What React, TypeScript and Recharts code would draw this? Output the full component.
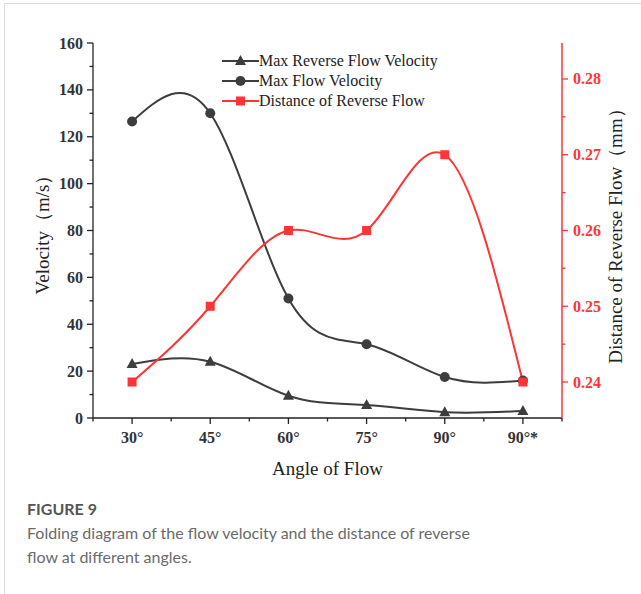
import React from "react";
import {
  ComposedChart,
  Line,
  XAxis,
  YAxis,
  Legend,
} from "recharts";

const angles = ["30°", "45°", "60°", "75°", "90°", "90°*"];
const maxReverseVelocity = [23, 24, 9.5, 5.5, 2.5, 3];
const maxFlowVelocity = [126.5, 130, 51, 31.5, 17.5, 16];
const reverseDistance = [0.24, 0.25, 0.26, 0.26, 0.27, 0.24];

const velocityTicks = [0, 10, 20, 30, 40, 50, 60, 70, 80, 90, 100, 110, 120, 130, 140, 150, 160];
const distanceTicks = [0.24, 0.245, 0.25, 0.255, 0.26, 0.265, 0.27, 0.275, 0.28];

const rows = angles.map((angle, i) => ({
  angle,
  reverse: maxReverseVelocity[i],
  flow: maxFlowVelocity[i],
  distance: reverseDistance[i],
}));

const seriesOrder = ["reverse", "flow", "distance"];

const CHART_W = 641;
const CHART_H = 480;
const LEFT_W = 93;
const RIGHT_W = 79;
const BAND = (CHART_W - LEFT_W - RIGHT_W) / angles.length;

const DARK = "#3d3d3d";
const RED = "#ff3434";
const SERIF = "'Liberation Serif', 'Times New Roman', serif";

type Marker = "triangle" | "circle" | "square";

function MarkerShape({ kind, cx, cy, color }: { kind: Marker; cx: number; cy: number; color: string }) {
  if (kind === "triangle") {
    return (
      <polygon
        points={`${cx},${cy - 6} ${cx - 5.5},${cy + 4} ${cx + 5.5},${cy + 4}`}
        fill={color}
      />
    );
  }
  if (kind === "circle") {
    return <circle cx={cx} cy={cy} r={5} fill={color} />;
  }
  return <rect x={cx - 4.5} y={cy - 4.5} width={9} height={9} fill={color} />;
}

const markerFor: Record<string, Marker> = {
  reverse: "triangle",
  flow: "circle",
  distance: "square",
};

const makeDot = (kind: Marker, color: string) => (props: any) => {
  const { cx, cy, index } = props;
  if (cx == null || cy == null) return <g key={`d-${kind}-${index}`} />;
  return (
    <g key={`d-${kind}-${index}`}>
      <MarkerShape kind={kind} cx={cx} cy={cy} color={color} />
    </g>
  );
};

// bottom axis: major tick at the category, minor tick at the band edge
const BottomTick = (props: any) => {
  const { x, y, payload, index } = props;
  const last = index === angles.length - 1;
  return (
    <g>
      <line x1={x} y1={y} x2={x} y2={y + 6} stroke="#222" strokeWidth={1.3} />
      <line x1={x - BAND / 2} y1={y} x2={x - BAND / 2} y2={y + 3.5} stroke="#222" strokeWidth={1.3} />
      {last && (
        <line x1={x + BAND / 2} y1={y} x2={x + BAND / 2} y2={y + 3.5} stroke="#222" strokeWidth={1.3} />
      )}
      <text
        x={x}
        y={y + 25}
        textAnchor="middle"
        fontFamily={SERIF}
        fontWeight="bold"
        fontSize={16}
        fill="#333"
      >
        {payload.value}
      </text>
    </g>
  );
};

// top mirror axis, ticks point inward
const TopTick = (props: any) => {
  const { x, y } = props;
  return (
    <g>
      <line x1={x} y1={y} x2={x} y2={y + 6} stroke="#222" strokeWidth={1.3} />
      <line x1={x - BAND / 2} y1={y} x2={x - BAND / 2} y2={y + 3.5} stroke="#222" strokeWidth={1.3} />
    </g>
  );
};

const VelocityTick = (props: any) => {
  const { x, y, payload } = props;
  const major = payload.value % 20 === 0;
  return (
    <g>
      <line x1={x - (major ? 6 : 3.5)} y1={y} x2={x} y2={y} stroke="#222" strokeWidth={1.3} />
      {major && (
        <text
          x={x - 10}
          y={y}
          dy={5.5}
          textAnchor="end"
          fontFamily={SERIF}
          fontWeight="bold"
          fontSize={16}
          fill="#333"
        >
          {payload.value}
        </text>
      )}
    </g>
  );
};

const DistanceTick = (props: any) => {
  const { x, y, payload } = props;
  const major = Math.round(payload.value * 1000) % 10 === 0;
  return (
    <g>
      <line x1={x} y1={y} x2={x + (major ? 6 : 3.5)} y2={y} stroke={RED} strokeWidth={1.3} />
      {major && (
        <text
          x={x + 11}
          y={y}
          dy={5.5}
          textAnchor="start"
          fontFamily={SERIF}
          fontWeight="bold"
          fontSize={16}
          fill={RED}
        >
          {payload.value.toFixed(2)}
        </text>
      )}
    </g>
  );
};

const title = (text: string, dx: number, dy: number, rotate: boolean) => (props: any) => {
  const vb = props.viewBox;
  const cx = vb.x + vb.width / 2 + dx;
  const cy = vb.y + vb.height / 2 + dy;
  return (
    <text
      x={cx}
      y={cy}
      textAnchor="middle"
      dominantBaseline="central"
      transform={rotate ? `rotate(-90 ${cx} ${cy})` : undefined}
      fontFamily={SERIF}
      fontSize={19}
      fill="#222"
    >
      {text}
    </text>
  );
};

const LegendContent = (props: any) => {
  const payload = [...(props.payload || [])].sort(
    (a: any, b: any) => seriesOrder.indexOf(a.dataKey) - seriesOrder.indexOf(b.dataKey)
  );
  return (
    <div style={{ fontFamily: SERIF, fontSize: 16, color: "#222" }}>
      {payload.map((entry: any) => {
        const kind = markerFor[entry.dataKey as string];
        return (
          <div key={entry.value} style={{ display: "flex", alignItems: "center", height: 20 }}>
            <svg width={37} height={20} style={{ display: "block" }}>
              <line x1={0} y1={10} x2={37} y2={10} stroke={entry.color} strokeWidth={2} />
              <MarkerShape kind={kind} cx={18.5} cy={10} color={entry.color} />
            </svg>
            <span style={{ whiteSpace: "nowrap" }}>{entry.value}</span>
          </div>
        );
      })}
    </div>
  );
};

export default function App() {
  return (
    <div
      style={{
        position: "absolute",
        left: 0,
        top: 0,
        width: 641,
        height: 594,
        overflow: "hidden",
        background: "#fff",
      }}
    >
      <div
        style={{
          position: "absolute",
          left: 4,
          top: 3,
          width: 700,
          height: 700,
          border: "1px solid #dcdcdc",
        }}
      />
      <div style={{ position: "absolute", left: 0, top: 0 }}>
        <ComposedChart
          width={CHART_W}
          height={CHART_H}
          data={rows}
          margin={{ top: 43, right: 0, bottom: 0, left: 0 }}
        >
          <XAxis
            dataKey="angle"
            xAxisId="bottom"
            height={62}
            interval={0}
            padding={{ left: BAND / 2, right: BAND / 2 }}
            tickSize={0}
            tickMargin={0}
            tickLine={false}
            axisLine={{ stroke: "#222", strokeWidth: 1.3 }}
            tick={BottomTick}
            label={title("Angle of Flow", 0, 19, false)}
          />
          <XAxis
            dataKey="angle"
            xAxisId="top"
            orientation="top"
            height={0}
            interval={0}
            padding={{ left: BAND / 2, right: BAND / 2 }}
            tickSize={0}
            tickMargin={0}
            tickLine={false}
            axisLine={{ stroke: "#222", strokeWidth: 1.3 }}
            tick={TopTick}
          />
          <YAxis
            yAxisId="velocity"
            width={LEFT_W}
            domain={[0, 160]}
            ticks={velocityTicks}
            interval={0}
            tickSize={0}
            tickMargin={0}
            tickLine={false}
            axisLine={{ stroke: "#222", strokeWidth: 1.3 }}
            tick={VelocityTick}
            label={title("Velocity（m/s）", -4.5, -0.5, true)}
          />
          <YAxis
            yAxisId="distance"
            orientation="right"
            width={RIGHT_W}
            domain={[0.23525, 0.28475]}
            ticks={distanceTicks}
            interval={0}
            tickSize={0}
            tickMargin={0}
            tickLine={false}
            allowDataOverflow
            axisLine={{ stroke: RED, strokeWidth: 1.5 }}
            tick={DistanceTick}
            label={title("Distance of Reverse Flow（mm）", 14, 1, true)}
          />
          <Legend
            layout="vertical"
            align="center"
            verticalAlign="middle"
            content={LegendContent}
            wrapperStyle={{ left: 222, top: 51, width: 240 }}
          />
          <Line
            name="Max Reverse Flow Velocity"
            dataKey="reverse"
            xAxisId="bottom"
            yAxisId="velocity"
            type="natural"
            stroke={DARK}
            strokeWidth={2}
            dot={makeDot("triangle", DARK)}
            activeDot={false}
            isAnimationActive={false}
          />
          <Line
            name="Max Flow Velocity"
            dataKey="flow"
            xAxisId="bottom"
            yAxisId="velocity"
            type="natural"
            stroke={DARK}
            strokeWidth={2}
            dot={makeDot("circle", DARK)}
            activeDot={false}
            isAnimationActive={false}
          />
          <Line
            name="Distance of Reverse Flow"
            dataKey="distance"
            xAxisId="bottom"
            yAxisId="distance"
            type="natural"
            stroke={RED}
            strokeWidth={2}
            dot={makeDot("square", RED)}
            activeDot={false}
            isAnimationActive={false}
          />
        </ComposedChart>
      </div>
      <div
        style={{
          position: "absolute",
          left: 27,
          top: 497,
          width: 600,
          fontFamily: "Lato, 'Open Sans', sans-serif",
          fontSize: 16,
          lineHeight: "24px",
        }}
      >
        <div style={{ color: "#555", fontWeight: 700 }}>FIGURE 9</div>
        <div style={{ color: "#6a6a6a" }}>
          Folding diagram of the flow velocity and the distance of reverse
          <br />
          flow at different angles.
        </div>
      </div>
    </div>
  );
}
